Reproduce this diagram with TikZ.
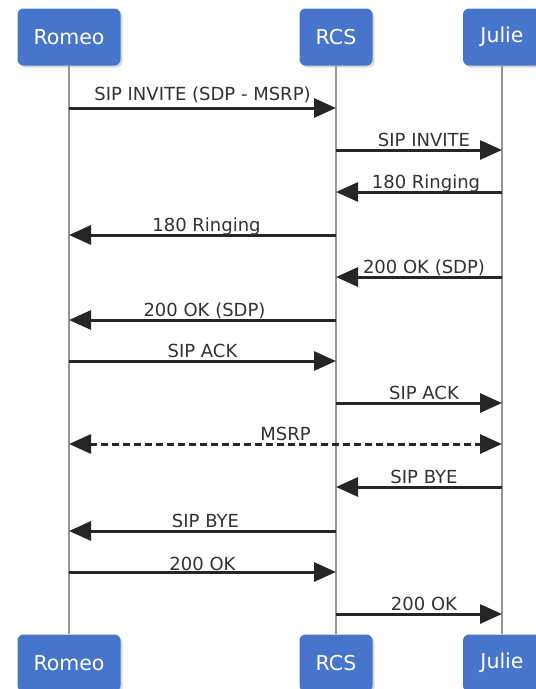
\documentclass[tikz,border=0pt]{standalone}
\usepackage{fontspec}
\setmainfont{DejaVu Sans}
\usetikzlibrary{arrows.meta,shadows}
\definecolor{boxblue}{RGB}{72,117,204}
\definecolor{lifegray}{RGB}{150,150,150}
\definecolor{labelgray}{RGB}{50,50,50}

\begin{document}
\begin{tikzpicture}[x=1pt,y=-1pt,
  actor/.style={rectangle,rounded corners=6pt,fill=boxblue,text=white,
    minimum width=103pt,minimum height=57pt,font=\fontsize{20.5}{23}\selectfont,
    drop shadow={shadow xshift=2pt,shadow yshift=-2pt,opacity=0.3}},
  lifeline/.style={draw=lifegray,line width=2.4pt},
  msg/.style={draw=black!85,line width=3pt,-{Triangle[length=22pt,width=19pt]}},
  both/.style={msg,dash pattern=on 7pt off 4pt,{Triangle[length=22pt,width=19pt]}-{Triangle[length=22pt,width=19pt]}},
  lbl/.style={anchor=base,inner sep=0pt,text=labelgray,font=\fontsize{18}{20}\selectfont,yshift=4pt}]
\useasboundingbox (0,0) rectangle (536,689);
% actors
\node[actor] (romeoTop) at (69,37) {Romeo};
\node[actor,minimum width=73pt] (rcsTop) at (336,37) {RCS};
\node[actor,minimum width=78pt] (julieTop) at (502,37) {Julie};
\node[actor] (romeoBot) at (69,663) {Romeo};
\node[actor,minimum width=73pt] (rcsBot) at (336,663) {RCS};
\node[actor,minimum width=78pt] (julieBot) at (502,663) {Julie};
% lifelines
\draw[lifeline] (romeoTop) -- (romeoBot);
\draw[lifeline] (rcsTop) -- (rcsBot);
\draw[lifeline] (julieTop) -- (julieBot);
% message rows
\coordinate (m1) at (0,108);
\coordinate (m2) at (0,150);
\coordinate (m3) at (0,192);
\coordinate (m4) at (0,235);
\coordinate (m5) at (0,277);
\coordinate (m6) at (0,320);
\coordinate (m7) at (0,361);
\coordinate (m8) at (0,403);
\coordinate (m9) at (0,444);
\coordinate (m10) at (0,487);
\coordinate (m11) at (0,531);
\coordinate (m12) at (0,572);
\coordinate (m13) at (0,614);
% messages
\draw[msg] (romeoTop |- m1) -- node[lbl,yshift=4pt]{SIP INVITE (SDP - MSRP)} (rcsTop |- m1);
\draw[msg] (rcsTop |- m2) -- node[lbl,xshift=5pt]{SIP INVITE} (julieTop |- m2);
\draw[msg] (julieTop |- m3) -- node[lbl,xshift=7pt]{180 Ringing} (rcsTop |- m3);
\draw[msg] (rcsTop |- m4) -- node[lbl,xshift=4pt]{180 Ringing} (romeoTop |- m4);
\draw[msg] (julieTop |- m5) -- node[lbl,xshift=5pt]{200 OK (SDP)} (rcsTop |- m5);
\draw[msg] (rcsTop |- m6) -- node[lbl,xshift=2pt]{200 OK (SDP)} (romeoTop |- m6);
\draw[msg] (romeoTop |- m7) -- node[lbl]{SIP ACK} (rcsTop |- m7);
\draw[msg] (rcsTop |- m8) -- node[lbl,xshift=5pt]{SIP ACK} (julieTop |- m8);
\draw[both] (romeoTop |- m9) -- node[lbl]{MSRP} (julieTop |- m9);
\draw[msg] (julieTop |- m10) -- node[lbl,xshift=5pt]{SIP BYE} (rcsTop |- m10);
\draw[msg] (rcsTop |- m11) -- node[lbl,xshift=3pt]{SIP BYE} (romeoTop |- m11);
\draw[msg] (romeoTop |- m12) -- node[lbl,yshift=-2pt]{200 OK} (rcsTop |- m12);
\draw[msg] (rcsTop |- m13) -- node[lbl,xshift=5pt]{200 OK} (julieTop |- m13);
\end{tikzpicture}
\end{document}
